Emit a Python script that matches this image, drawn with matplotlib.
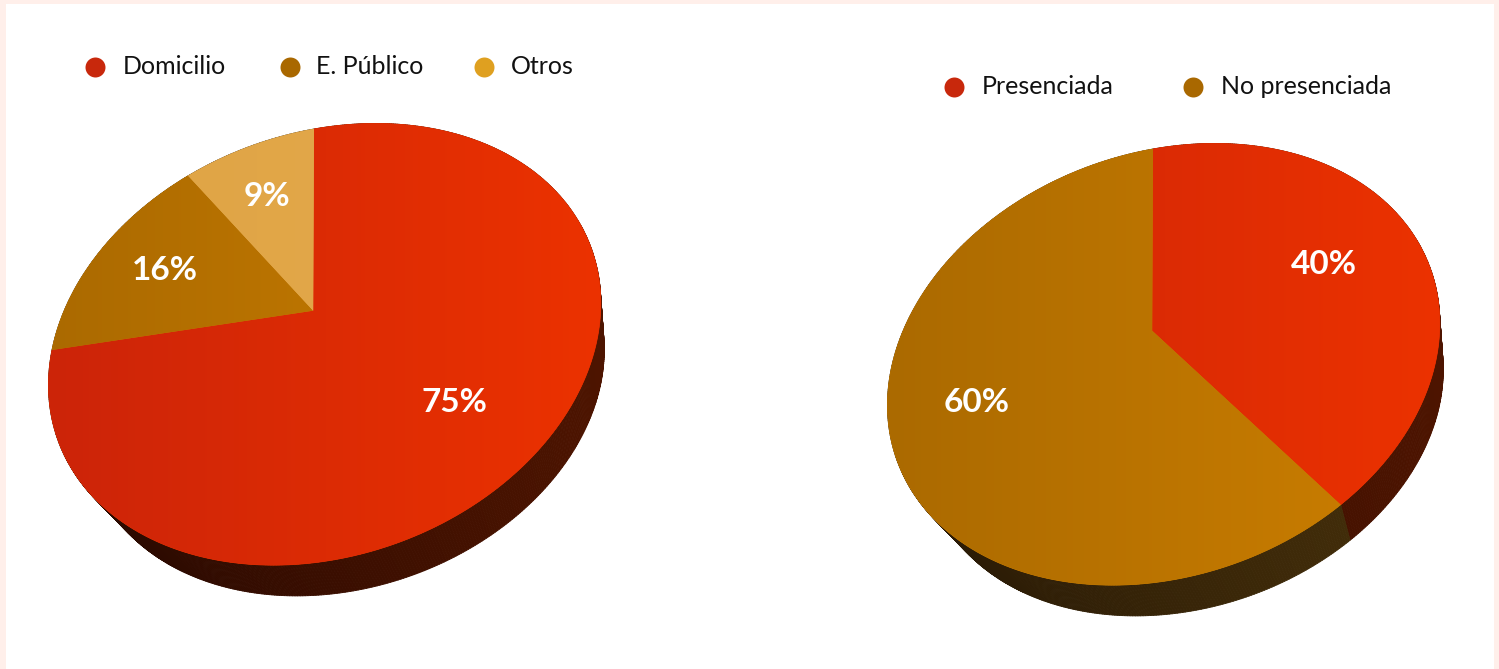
import numpy as np
import matplotlib
matplotlib.use("Agg")
import matplotlib.pyplot as plt
from matplotlib.collections import PolyCollection
from matplotlib.colors import LinearSegmentedColormap
from matplotlib.patches import Rectangle
from matplotlib.path import Path
from matplotlib.transforms import Affine2D, Transform

plt.rcParams["font.family"] = ["Lato", "DejaVu Sans"]

# lugar del paro
lugar_labels = ["Domicilio", "E. Público", "Otros"]
lugar_values = [75, 16, 9]

# presenciada o no
testigo_labels = ["Presenciada", "No presenciada"]
testigo_values = [40, 60]

RED = (("#cc2409", "#ec3200"), ("#260800", "#4d1400"), "#c8280c")
BROWN = (("#ab6a00", "#cd7f00"), ("#271805", "#46300a"), "#a96800")
GOLD = (("#dea344", "#e6ab4d"), ("#271805", "#46300a"), "#dfa020")


def homography(dst):
    # unit circle points top, left, bottom, right -> pixels
    src = [(0, 1), (-1, 0), (0, -1), (1, 0)]
    A, b = [], []
    for (x, y), (u, v) in zip(src, dst):
        A.append([x, y, 1, 0, 0, 0, -u * x, -u * y])
        A.append([0, 0, 0, x, y, 1, -v * x, -v * y])
        b += [u, v]
    return np.append(np.linalg.solve(A, b), 1).reshape(3, 3)


class Tilt(Transform):
    input_dims = output_dims = 2
    is_affine = False

    def __init__(self, H, center, scale=1.0, dx=0.0, dy=0.0):
        super().__init__()
        self.H, self.center, self.scale, self.dx, self.dy = H, np.array(center, float), scale, dx, dy

    def transform_non_affine(self, xy):
        xy = np.asarray(xy, float)
        p = np.c_[xy, np.ones(len(xy))] @ self.H.T
        out = p[:, :2] / p[:, 2:]
        return self.center + (out - self.center) * self.scale + [self.dx, self.dy]

    def transform_path_non_affine(self, path):
        # aplanar las curvas antes de proyectar
        poly = path.to_polygons(Affine2D().scale(2000), closed_only=False)[0] / 2000
        return Path(self.transform_non_affine(poly))


fig = plt.figure(figsize=(14.99, 6.69), dpi=100, facecolor="#ffefea")
ax = fig.add_axes([0, 0, 1, 1])

TOP_PTS = [(314, 129), (52, 350), (312, 563), (597, 268)]


def draw_pie(values, styles, shift, label_xy):
    pts = [(x + shift[0], y + shift[1]) for x, y in TOP_PTS]
    center = (325 + shift[0], 344 + shift[1])
    top = Tilt(homography(pts), center)
    bottom = Tilt(homography(pts), center, scale=0.94, dx=20, dy=44)
    wedges, _ = ax.pie(values, startangle=90, counterclock=False, radius=1)
    x0, x1 = 48 + shift[0], 604 + shift[0]

    for w, (top_c, side_c, _) in zip(wedges, styles):
        # pared lateral, tiras verticales entre borde superior e inferior
        th = np.radians(np.linspace(w.theta1, w.theta2, int(w.theta2 - w.theta1) * 2 + 2))
        ring = np.c_[np.cos(th), np.sin(th)]
        a, b = top.transform(ring), bottom.transform(ring)
        quads = [[a[i], a[i + 1], b[i + 1], b[i]] for i in range(len(th) - 1)]
        cmap = LinearSegmentedColormap.from_list("side", side_c)
        t = (np.array(quads)[:, :, 0].mean(axis=1) - x0) / (x1 - x0)
        colors = cmap(t)
        ax.add_collection(PolyCollection(quads, facecolors=colors, edgecolors=colors,
                                         linewidths=0.6, zorder=1))

    for w, (top_c, side_c, _) in zip(wedges, styles):
        w.set_transform(top + ax.transData)
        w.set_facecolor(top_c[1])
        w.set_edgecolor(top_c[1])
        w.set_linewidth(0.5)
        w.set_zorder(2)
        cmap = LinearSegmentedColormap.from_list("face", top_c)
        grad = np.linspace(0, 1, 256)[None, :]
        im = ax.imshow(grad, cmap=cmap, extent=(x0, x1, 669, 0), aspect="auto", zorder=3)
        im.set_clip_path(w)

    for v, (x, y) in zip(values, label_xy):
        ax.text(x, y, f"{v}%", color="white", fontsize=24, fontweight="bold",
                ha="center", va="center", zorder=5)


ax.add_patch(Rectangle((6, 4), 1488, 670, facecolor="white", edgecolor="none", zorder=0))

draw_pie(lugar_values, [RED, BROWN, GOLD], (0, 0), [(454, 402), (165, 271), (267, 197)])
draw_pie(testigo_values, [RED, BROWN], (839, 20), [(1324, 264), (977, 402)])

# leyendas
for label, style, mx, tx in zip(lugar_labels, [RED, BROWN, GOLD], [95, 290, 484], [123, 316, 511]):
    ax.scatter([mx], [67], s=207, color=style[2], linewidths=0, zorder=5)
    ax.text(tx, 67, label, color="#111111", fontsize=18, ha="left", va="center", zorder=5)
for label, style, mx, tx in zip(testigo_labels, [RED, BROWN], [954, 1193], [982, 1221]):
    ax.scatter([mx], [87], s=207, color=style[2], linewidths=0, zorder=5)
    ax.text(tx, 87, label, color="#111111", fontsize=18, ha="left", va="center", zorder=5)

ax.set_aspect("auto")
ax.set_xlim(0, 1499)
ax.set_ylim(669, 0)
ax.axis("off")

fig.savefig("out.png", dpi=100, facecolor=fig.get_facecolor())
